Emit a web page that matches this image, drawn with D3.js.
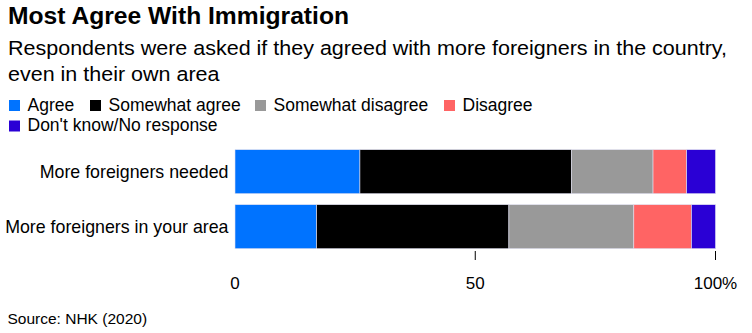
<!DOCTYPE html>
<html><head><meta charset="utf-8">
<script src="https://cdn.jsdelivr.net/npm/d3@7"></script>
<style>body{margin:0;background:#fff;} svg{display:block;font-family:"Liberation Sans",Arial,sans-serif;}</style>
</head><body>
<script>
const categories = ["More foreigners needed", "More foreigners in your area"];
const seriesNames = ["Agree", "Somewhat agree", "Somewhat disagree", "Disagree", "Don't know/No response"];
const agree = [26, 17];
const somewhatAgree = [44, 40];
const somewhatDisagree = [17, 26];
const disagree = [7, 12];
const dontKnow = [6, 5];
const tickValues = [0, 50, 100];
const tickLabels = ["0", "50", "100%"];
const colors = ["#0073ff", "#000000", "#999999", "#ff6464", "#2a00d5"];

const W = 752, H = 333;
const svg = d3.select("body").append("svg").attr("width", W).attr("height", H);

const title = svg.append("text").attr("x", 8).attr("y", 24).attr("font-size", 23.5).attr("font-weight", "bold")
  .attr("fill", "#000").text("Most Agree With Immigration");
title.attr("textLength", 341).attr("lengthAdjust", "spacingAndGlyphs");

const subLines = ["Respondents were asked if they agreed with more foreigners in the country,", "even in their own area"];
const subY = [55, 81];
let ratio = 1;
subLines.forEach((s, i) => {
  const t = svg.append("text").attr("x", 8).attr("y", subY[i]).attr("font-size", 20.5).attr("fill", "#000").text(s);
  const n = t.node().getComputedTextLength();
  if (i === 0) ratio = 719 / n;
  t.attr("textLength", n * ratio).attr("lengthAdjust", "spacingAndGlyphs");
});

// legend
const legendPos = [[9, 110.5], [90, 110.5], [255, 110.5], [444, 110.5], [9, 131]];
seriesNames.forEach((name, i) => {
  const [lx, ly] = legendPos[i];
  svg.append("rect").attr("x", lx).attr("y", ly - 10.5).attr("width", 11).attr("height", 11).attr("fill", colors[i]);
  svg.append("text").attr("x", lx + 18.5).attr("y", ly).attr("font-size", 17.5).attr("fill", "#000").text(name);
});

const data = categories.map((c, i) => ({cat: c, vals: [agree[i], somewhatAgree[i], somewhatDisagree[i], disagree[i], dontKnow[i]]}));
const stacked = d3.stack().keys(d3.range(5)).value((d, k) => d.vals[k])(data);

const x = d3.scaleLinear().domain([0, 100]).range([235, 715.5]);
const y = d3.scaleBand().domain(categories).range([149.7, 248.7]).paddingInner(0.2).paddingOuter(0);

stacked.forEach((layer, k) => {
  svg.append("g").selectAll("rect").data(layer).join("rect")
    .attr("x", d => x(d[0])).attr("width", d => x(d[1]) - x(d[0]))
    .attr("y", d => y(d.data.cat)).attr("height", y.bandwidth())
    .attr("fill", colors[k]).attr("stroke", "#e0e0f0").attr("stroke-width", 0.6);
});

svg.append("g").selectAll("text").data(categories).join("text")
  .attr("x", 228.5).attr("y", d => y(d) + y.bandwidth() / 2 + 6)
  .attr("text-anchor", "end").attr("font-size", 17.8).attr("fill", "#000").text(d => d);

const axis = svg.append("g");
axis.selectAll("line").data(tickValues.filter(v => v > 0)).join("line")
  .attr("x1", d => x(d)).attr("x2", d => x(d)).attr("y1", 251).attr("y2", 260)
  .attr("stroke", "#000").attr("stroke-width", 1);
axis.selectAll("text").data(tickValues).join("text")
  .attr("x", d => x(d)).attr("y", 288.5).attr("text-anchor", "middle")
  .attr("font-size", 17).attr("fill", "#000").text((d, i) => tickLabels[i]);

svg.append("text").attr("x", 7.5).attr("y", 323.5).attr("font-size", 15.5).attr("fill", "#000").text("Source: NHK (2020)");
</script>
</body></html>
